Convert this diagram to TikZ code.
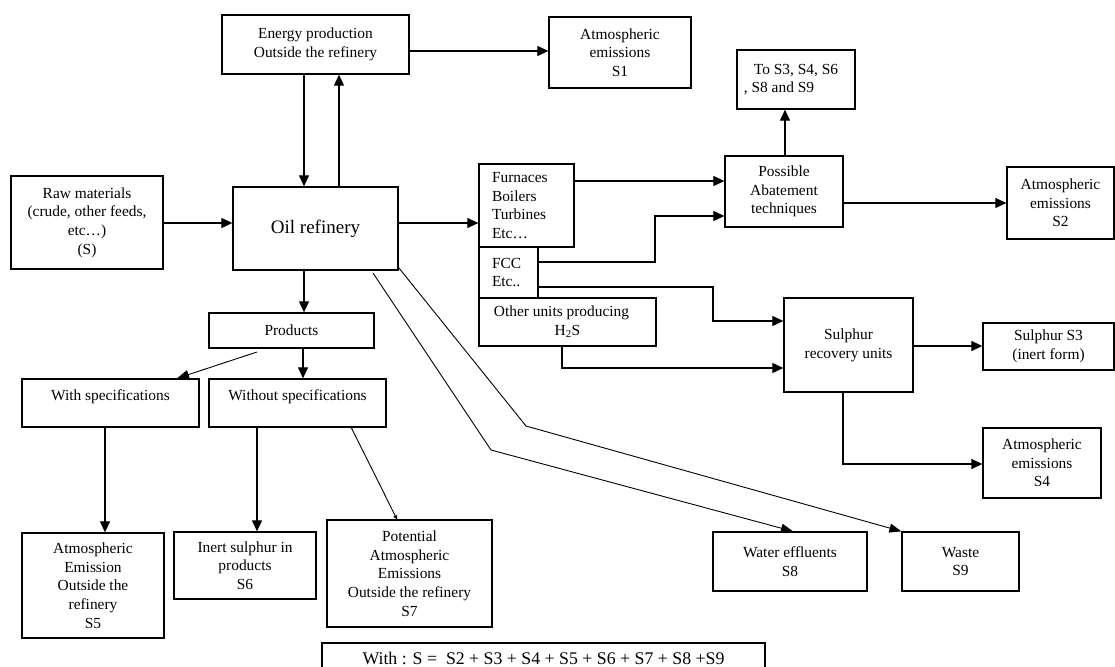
\documentclass[tikz,border=0pt]{standalone}
\usepackage{fontspec}
\setmainfont{Liberation Serif}
\usetikzlibrary{arrows.meta}
\newcommand\fsz{\fontsize{15.4}{18.7}\selectfont}
\tikzset{
  box/.style={draw, line width=1.3pt, inner sep=0pt, align=center, font=\fsz},
  arr/.style={line width=1.2pt, -{Triangle[length=11pt,width=10pt]}},
  thinarr/.style={line width=0.9pt, -{Triangle[length=12pt,width=9pt]}},
  tinyarr/.style={line width=0.9pt, -{Triangle[length=4pt,width=4pt]}},
  topbox/.style={text height=11pt, text depth=17pt},
}
\begin{document}
\begin{tikzpicture}[x=1pt,y=-1pt]
\clip (0,0) rectangle (1115,666);
\fill[white] (0,0) rectangle (1115,666);

% nodes
\node[box, minimum width=187pt, minimum height=59pt] (energy) at (315.5,44.5) {Energy production\\Outside the refinery};
\node[box, minimum width=142pt, minimum height=71pt] (s1) at (620,52.5) {Atmospheric\\emissions\\S1};
\node[box, minimum width=118pt, minimum height=59pt] (tos) at (796,79.5) {To S3, S4, S6\\, S8 and S9\hspace*{34pt}};
\node[box, minimum width=118pt, minimum height=71pt] (abate) at (784,191.5) {Possible\\Abatement\\techniques};
\node[box, minimum width=107pt, minimum height=72pt] (s2) at (1060.5,203) {Atmospheric\\emissions\\S2};
\node[box, minimum width=152pt, minimum height=93pt] (raw) at (87,222.5) {Raw materials\\(crude, other feeds,\\etc…)\\(S)};
\node[box, minimum width=165pt, minimum height=83pt, font=\fontsize{19}{22}\selectfont] (oil) at (315.5,228.5) {Oil refinery};
\node[box, minimum width=95pt, minimum height=83pt, text width=69pt, inner xsep=13pt, align=left] (furn) at (526.5,205.5) {Furnaces\\Boilers\\Turbines\\Etc…};
\node[box, minimum width=59pt, minimum height=51pt, text width=33pt, inner xsep=13pt, align=left] (fcc) at (508.5,272.5) {FCC\\Etc..};
\node[box, minimum width=177pt, minimum height=48pt] (other) at (567.5,322) {Other units producing\hspace*{12pt}\\H\textsubscript{2}S};
\node[box, minimum width=129pt, minimum height=94pt] (sru) at (848.5,345) {Sulphur\\recovery units};
\node[box, minimum width=131pt, minimum height=47pt] (s3) at (1048.5,346.5) {Sulphur S3\\(inert form)};
\node[box, minimum width=118pt, minimum height=70pt] (s4) at (1042,463) {Atmospheric\\emissions\\S4};
\node[box, minimum width=165pt, minimum height=35pt] (products) at (291.5,330.5) {Products};
\node[box, topbox, minimum width=177pt, minimum height=48pt] (withs) at (110.5,403) {With specifications};
\node[box, topbox, minimum width=177pt, minimum height=48pt] (without) at (297.5,403) {Without specifications};
\node[box, minimum width=142pt, minimum height=105pt] (s5) at (93,585.5) {Atmospheric\\Emission\\Outside the\\refinery\\S5};
\node[box, minimum width=142pt, minimum height=67pt] (s6) at (245,565.5) {Inert sulphur in\\products\\S6};
\node[box, minimum width=165pt, minimum height=107pt] (s7) at (409.5,573.5) {Potential\\Atmospheric\\Emissions\\Outside the refinery\\S7};
\node[box, minimum width=154pt, minimum height=59pt] (s8) at (790,561.5) {Water effluents\\S8};
\node[box, minimum width=117pt, minimum height=59pt] (s9) at (960.5,561.5) {Waste\\S9};
\node[box, minimum width=443pt, minimum height=30pt, font=\fontsize{17.8}{21}\selectfont] (formula) at (543.5,658) {With : S =~ S2 + S3 + S4 + S5 + S6 + S7 + S8 +S9};

% connectors
\draw[arr] (raw.east |- 0,223) -- (oil.west |- 0,223);
\draw[arr] (energy.south -| 304,0) -- (oil.north -| 304,0);
\draw[arr] (oil.north -| 339,0) -- (energy.south -| 339,0);
\draw[arr] (energy.east |- 0,51) -- (s1.west |- 0,51);
\draw[arr] (oil.east |- 0,223) -- (furn.west |- 0,223);
\draw[arr] (oil.south -| 304,0) -- (products.north -| 304,0);
\draw[arr] (furn.east |- 0,181) -- (abate.west |- 0,181);
\draw[arr] (fcc.east |- 0,262) -| (655,216) -- (abate.west |- 0,216);
\draw[arr] (fcc.east |- 0,287) -| (713,321) -- (sru.west |- 0,321);
\draw[arr] (other.south -| 562,0) |- (sru.west |- 0,368);
\draw[arr] (abate.north -| 785,0) -- (tos.south -| 785,0);
\draw[arr] (abate.east |- 0,203) -- (s2.west |- 0,203);
\draw[arr] (sru.east |- 0,346) -- (s3.west |- 0,346);
\draw[arr] (sru.south -| 843,0) |- (s4.west |- 0,464);
\draw[thinarr] (oil.south east) ++(0,-3) -- (526,426) -- (s9.north west);
\draw[thinarr] (373,273) -- (491,450) -- (s8.north -| 793,0);
\draw[thinarr] (257,352) -- (withs.north -| 177,0);
\draw[arr] (products.south -| 303,0) -- (without.north -| 303,0);
\draw[arr] (withs.south -| 105,0) -- (s5.north -| 105,0);
\draw[arr] (without.south -| 257,0) -- (s6.north -| 257,0);
\draw[tinyarr] (351,427) -- (s7.north -| 397,0);
\end{tikzpicture}
\end{document}
